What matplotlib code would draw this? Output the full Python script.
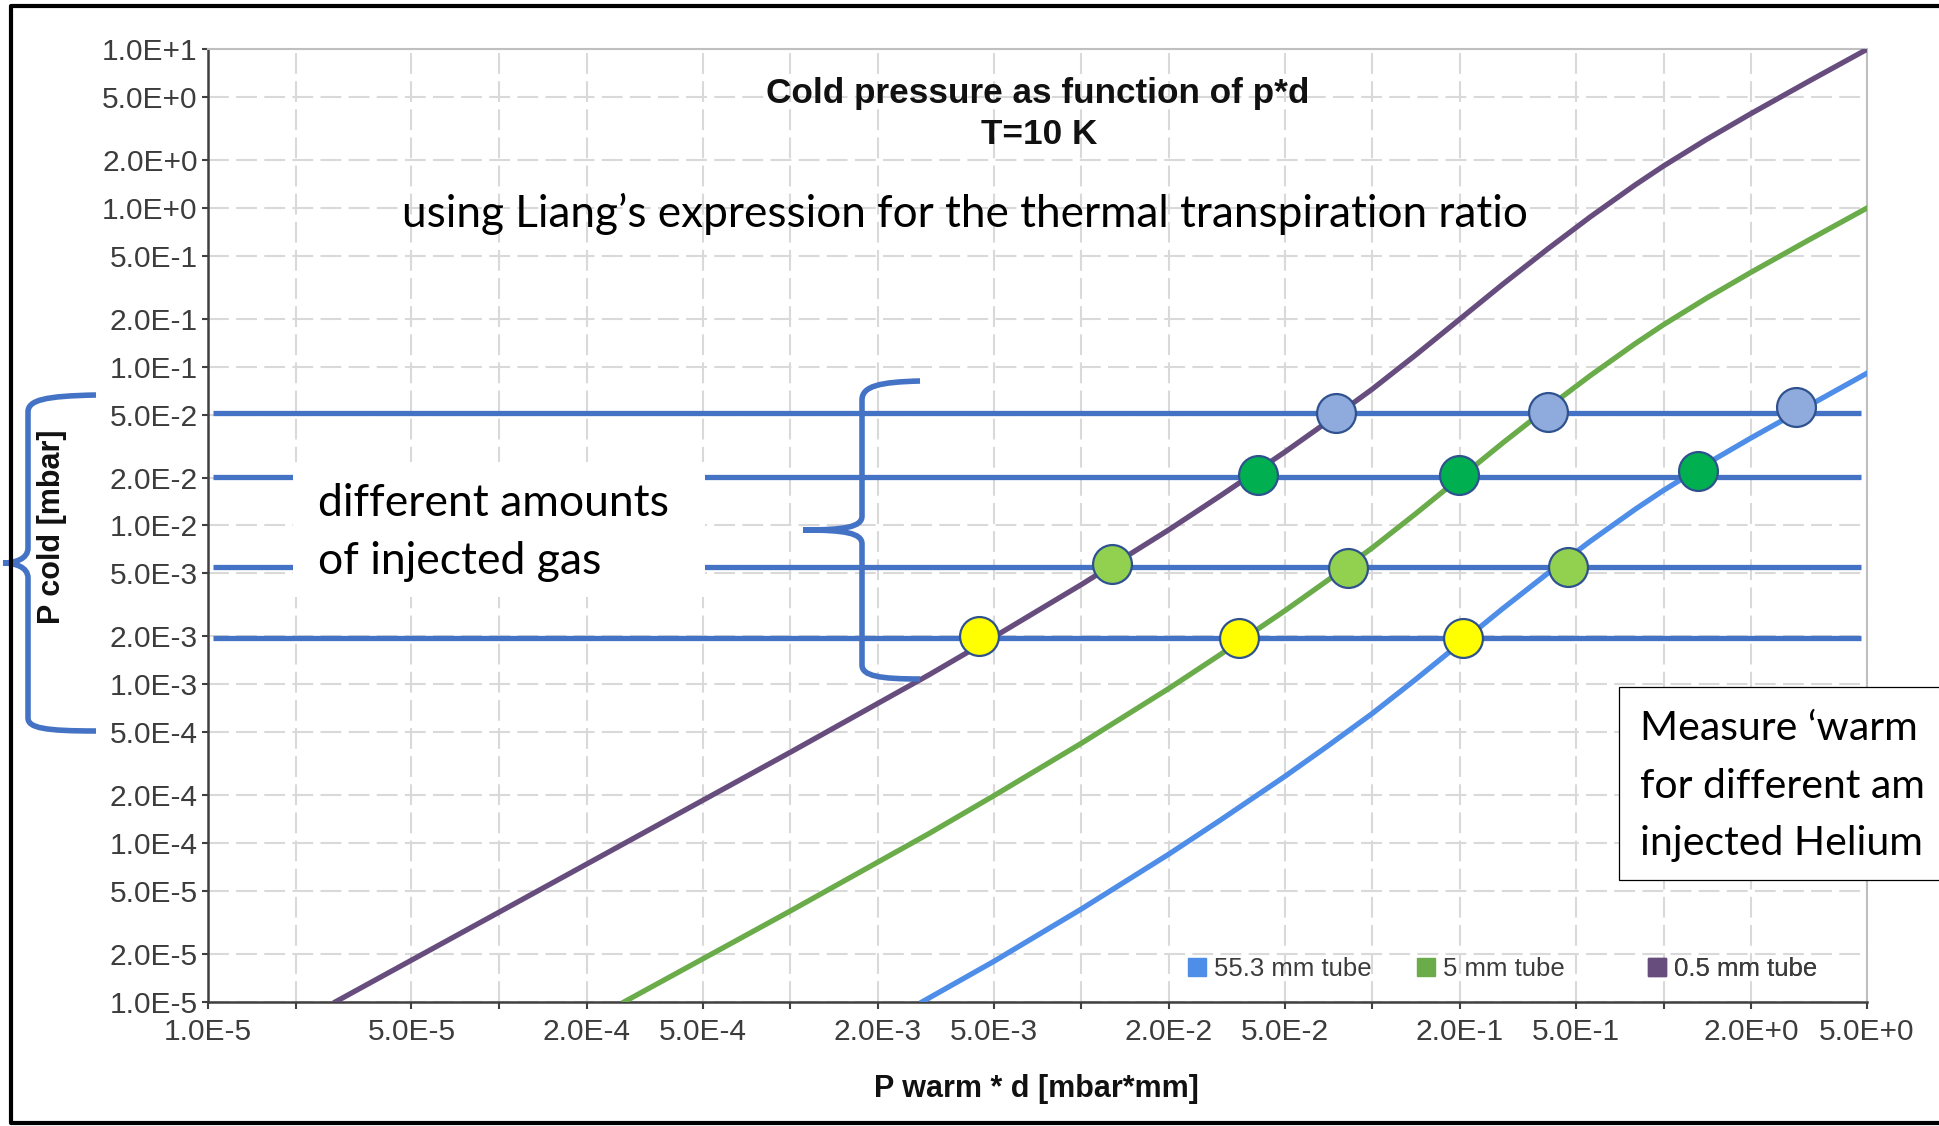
import matplotlib
matplotlib.use('Agg')
import matplotlib.pyplot as plt
from matplotlib.lines import Line2D
from matplotlib.patches import Rectangle, PathPatch
from matplotlib.path import Path
from matplotlib.ticker import NullLocator
import matplotlib.transforms as mtransforms

plt.rcParams['font.family'] = ['Liberation Sans', 'DejaVu Sans']

# curves: P warm * d [mbar*mm] -> P cold [mbar]
x_05mm = [2.75e-5, 1e-4, 1e-3, 3e-3, 5e-3, 1e-2, 2e-2, 3e-2, 5e-2, 7e-2, 0.1, 0.14,
          0.2, 0.28, 0.4, 0.56, 0.8, 1.0, 1.4, 2.0, 3.2, 5.0]
y_05mm = [1.0e-5, 3.66e-5, 3.72e-4, 1.146e-3, 1.98e-3, 4.24e-3, 9.4e-3, 1.536e-2, 2.9e-2,
          4.494e-2, 7.24e-2, 0.1176, 0.2, 0.3304, 0.552, 0.879, 1.4, 1.84, 2.694, 3.94,
          6.381, 10.0]

x_5mm = [2.7e-4, 1e-3, 3e-3, 5e-3, 1e-2, 2e-2, 3e-2, 5e-2, 7e-2, 0.1, 0.14,
         0.2, 0.28, 0.4, 0.56, 0.8, 1.0, 1.4, 2.0, 3.2, 5.0]
y_5mm = [1.0e-5, 3.72e-5, 1.146e-4, 1.98e-4, 4.24e-4, 9.4e-4, 1.536e-3, 2.9e-3, 4.494e-3,
         7.24e-3, 1.176e-2, 2.0e-2, 3.304e-2, 5.52e-2, 8.79e-2, 0.14, 0.184, 0.2694, 0.394,
         0.638, 1.0]

x_553mm = [2.85e-3, 5e-3, 1e-2, 2e-2, 3e-2, 5e-2, 7e-2, 0.1, 0.14,
           0.2, 0.28, 0.4, 0.56, 0.8, 1.0, 1.4, 2.0, 3.2, 5.0]
y_553mm = [1.0e-5, 1.79e-5, 3.83e-5, 8.5e-5, 1.389e-4, 2.622e-4, 4.063e-4, 6.546e-4,
           1.063e-3, 1.808e-3, 2.988e-3, 4.991e-3, 7.949e-3, 1.266e-2, 1.664e-2, 2.435e-2,
           3.562e-2, 5.77e-2, 9.1e-2]

series_labels = ['55.3 mm tube', '5 mm tube', '0.5 mm tube']

# injected gas amounts (horizontal lines)
gas_levels = [5.13e-2, 2.02e-2, 5.5e-3, 1.95e-3]

# crossing points, order: 0.5 mm, 5 mm, 55.3 mm
dot_x_5e2 = [7.52e-2, 0.402, 2.85]
dot_y_5e2 = [5.13e-2, 5.2e-2, 5.59e-2]
dot_x_2e2 = [4.06e-2, 0.198, 1.311]
dot_y_2e2 = [2.08e-2, 2.08e-2, 2.21e-2]
dot_x_5e3 = [1.275e-2, 8.26e-2, 0.469]
dot_y_5e3 = [5.69e-3, 5.37e-3, 5.5e-3]
dot_x_2e3 = [4.44e-3, 3.48e-2, 0.2046]
dot_y_2e3 = [2.01e-3, 1.945e-3, 1.945e-3]

x_ticks = [1e-5, 2e-5, 5e-5, 1e-4, 2e-4, 5e-4, 1e-3, 2e-3, 5e-3, 1e-2, 2e-2, 5e-2,
           1e-1, 2e-1, 5e-1, 1e0, 2e0, 5e0]
x_tick_labels = ['1.0E-5', '', '5.0E-5', '', '2.0E-4', '5.0E-4', '', '2.0E-3', '5.0E-3', '',
                 '2.0E-2', '5.0E-2', '', '2.0E-1', '5.0E-1', '', '2.0E+0', '5.0E+0']
y_ticks = [1e-5, 2e-5, 5e-5, 1e-4, 2e-4, 5e-4, 1e-3, 2e-3, 5e-3, 1e-2, 2e-2, 5e-2,
           1e-1, 2e-1, 5e-1, 1e0, 2e0, 5e0, 1e1]
y_tick_labels = ['1.0E-5', '2.0E-5', '5.0E-5', '1.0E-4', '2.0E-4', '5.0E-4', '1.0E-3', '2.0E-3',
                 '5.0E-3', '1.0E-2', '2.0E-2', '5.0E-2', '1.0E-1', '2.0E-1', '5.0E-1', '1.0E+0',
                 '2.0E+0', '5.0E+0', '1.0E+1']

W, H = 1939, 1126
fig = plt.figure(figsize=(W / 100, H / 100), dpi=100)
ax = fig.add_axes([208 / W, 1 - 1001.6 / H, 1659 / W, 952.3 / H])

# pixel coords (from top left) -> figure
pxT = mtransforms.Affine2D().scale(1 / W, -1 / H).translate(0, 1) + fig.transFigure

c_blue, c_green, c_purple = '#4E8DE8', '#6AAB4A', '#664D7E'
c_annot = '#4472C4'
c_text = '#3C3C3C'

ax.plot(x_553mm, y_553mm, color=c_blue, lw=3.8, zorder=3)
ax.plot(x_5mm, y_5mm, color=c_green, lw=3.8, zorder=3)
ax.plot(x_05mm, y_05mm, color=c_purple, lw=3.8, zorder=3)

ax.set_xscale('log')
ax.set_yscale('log')
ax.set_xlim(1e-5, 5)
ax.set_ylim(1e-5, 10)
ax.set_xticks(x_ticks)
ax.set_xticklabels(x_tick_labels)
ax.set_yticks(y_ticks)
ax.set_yticklabels(y_tick_labels)
ax.xaxis.set_minor_locator(NullLocator())
ax.yaxis.set_minor_locator(NullLocator())
ax.grid(True, color='#D9D9D9', lw=1.5, ls=(0, (10, 3.5)), zorder=0)
ax.set_axisbelow(True)
ax.tick_params(axis='both', direction='out', width=1.5, color='#404040',
               labelsize=21.5, labelcolor=c_text)
ax.tick_params(axis='x', length=5, pad=7)
ax.tick_params(axis='y', length=4.5, pad=3)
for s in ['left', 'bottom']:
    ax.spines[s].set_color('#404040')
    ax.spines[s].set_linewidth(1.8)
for s in ['top', 'right']:
    ax.spines[s].set_color('#BFBFBF')
    ax.spines[s].set_linewidth(1.5)

# gas amount lines and crossing dots
hT = mtransforms.blended_transform_factory(ax.transAxes, ax.transData)
for lev in gas_levels:
    ax.plot([0.003, 0.9964], [lev, lev], color=c_annot, lw=3.8, transform=hT,
            solid_capstyle='butt', zorder=4)

dot_kw = dict(ls='none', marker='o', markersize=28, markeredgecolor='#2F528F',
              markeredgewidth=1.6, zorder=5, clip_on=False)
ax.plot(dot_x_5e2, dot_y_5e2, markerfacecolor='#8FAADC', **dot_kw)
ax.plot(dot_x_2e2, dot_y_2e2, markerfacecolor='#00B050', **dot_kw)
ax.plot(dot_x_5e3, dot_y_5e3, markerfacecolor='#92D050', **dot_kw)
ax.plot(dot_x_2e3, dot_y_2e3, markerfacecolor='#FFFF00', **dot_kw)

# legend: one slot per series, evenly spaced like the original
for lab, col, xa in zip(series_labels, [c_blue, c_green, c_purple], [0.5907, 0.7288, 0.868]):
    h = Line2D([], [], ls='none', marker='s', markersize=13.5, color=col)
    leg = ax.legend([h], [lab], loc='center left', bbox_to_anchor=(xa, 0.0345),
                    frameon=False, fontsize=18.5, handlelength=0.7, handletextpad=0.3,
                    borderaxespad=0, borderpad=0, labelcolor=c_text)
    ax.add_artist(leg)

# titles and axis labels
fig.text(1038, 94, 'Cold pressure as function of p*d', transform=pxT,
         ha='center', va='center', fontsize=25.3, weight='bold', color='#111111')
fig.text(1039, 135, 'T=10 K', transform=pxT,
         ha='center', va='center', fontsize=25.3, weight='bold', color='#111111')
fig.text(1036, 1089, 'P warm * d [mbar*mm]', transform=pxT, ha='center', va='center',
         fontsize=22, weight='bold', color='#111111')
fig.text(52, 527, 'P cold [mbar]', transform=pxT, ha='center', va='center',
         rotation=90, fontsize=22, weight='bold', color='#111111')

# slide annotations
calibri = ['Lato', 'DejaVu Sans']
fig.text(965, 214, 'using Liang\u2019s expression for the thermal transpiration ratio',
         transform=pxT, ha='center', va='center', fontsize=31.8, family=calibri, color='black')

fig.add_artist(Rectangle((293, 462), 412, 135, transform=pxT, facecolor='white',
                         edgecolor='none', zorder=2))
fig.text(318, 504, 'different amounts', transform=pxT, ha='left', va='center',
         fontsize=32, family=calibri, color='black', zorder=3)
fig.text(318, 562, 'of injected gas', transform=pxT, ha='left', va='center',
         fontsize=32, family=calibri, color='black', zorder=3)

fig.add_artist(Rectangle((1619, 687), 400, 193, transform=pxT, facecolor='white',
                         edgecolor='black', lw=0.9, zorder=2))
for yy, line in zip([728, 786, 843], ['Measure \u2018warm', 'for different am',
                                      'injected Helium']):
    fig.text(1640, yy, line, transform=pxT, ha='left', va='center', fontsize=29.5,
             family=calibri, color='black', zorder=3)

# braces
brace_kw = dict(facecolor='none', edgecolor=c_annot, lw=4, transform=pxT, zorder=3,
                capstyle='butt')
M, L, C = Path.MOVETO, Path.LINETO, Path.CURVE4
mid = Path([(920, 381), (880, 382), (862, 386), (862, 400), (862, 516),
            (862, 527), (845, 530), (803, 530),
            (845, 530), (862, 533), (862, 544), (862, 665),
            (862, 676), (880, 679), (920, 679)],
           [M, C, C, C, L, C, C, C, C, C, C, L, C, C, C])
fig.add_artist(PathPatch(mid, **brace_kw))
left = Path([(96, 395), (45, 396), (28, 400), (28, 412), (28, 548),
             (28, 559), (15, 563), (3, 563),
             (15, 563), (28, 567), (28, 578), (28, 718),
             (28, 728), (45, 731), (96, 731)],
            [M, C, C, C, L, C, C, C, C, C, C, L, C, C, C])
fig.add_artist(PathPatch(left, **brace_kw))

# slide frame
fig.add_artist(Line2D([2000, 11, 11, 2000], [6, 6, 1123, 1123], transform=pxT,
                      color='black', lw=3, zorder=10))

fig.savefig('out.png', dpi=100)
